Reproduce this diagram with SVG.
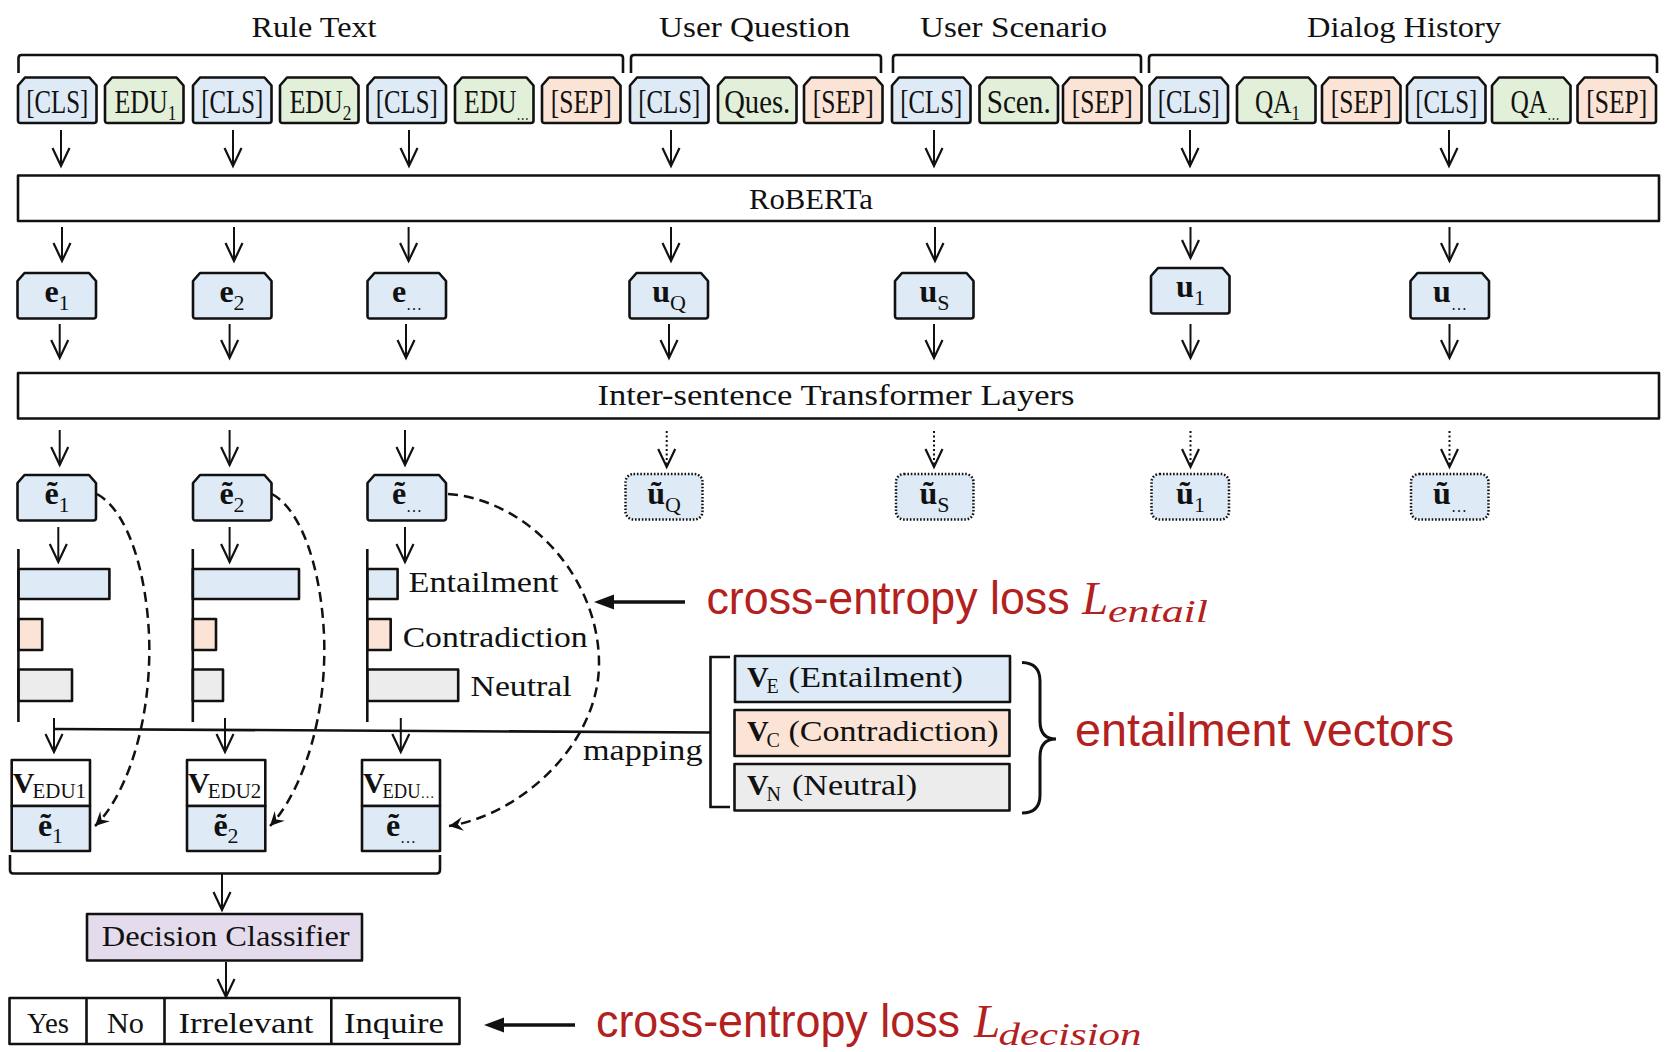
<svg xmlns="http://www.w3.org/2000/svg" xmlns:xlink="http://www.w3.org/1999/xlink" width="1665" height="1052" viewBox="0 0 1665 1052">
  <style>
    .bx{stroke:#111;stroke-width:2.6;stroke-linejoin:round}
    .blue{fill:#deebf7}.green{fill:#e2efd9}.peach{fill:#fbe4d5}.grey{fill:#ececec}.purple{fill:#e4dcec}.white{fill:#fff}
    .dotbox{fill:#deebf7;stroke:#111;stroke-width:2.5;stroke-dasharray:1.6 1.8}
    .t{font-family:'Liberation Serif',serif;fill:#111}
    .tok{font-size:33px}
    .lbl{font-size:29px}
    .sym{font-size:32px}
    .b{font-weight:bold}
    .red{font-family:'Liberation Sans',sans-serif;fill:#b3211e;font-size:46px}
    .redm{font-family:'Liberation Serif',serif;fill:#b3211e;font-style:italic}
    .ln{stroke:#111;stroke-width:2.6;fill:none}
    .ar{stroke:#111;stroke-width:2;fill:none;marker-end:url(#v)}
    .dt{stroke-dasharray:2 2.5}
    .dash{stroke:#111;stroke-width:2.5;fill:none;stroke-dasharray:10 6;marker-end:url(#sv)}
  </style>
  <defs>
    <!-- chamfered token tab -->
    <path id="tab" d="M7,0 H71.5 L78.5,8 V43 Q78.5,45.5 76,45.5 H2.5 Q0,45.5 0,43 V8 Z"/>
    <marker id="v" markerUnits="userSpaceOnUse" markerWidth="24" markerHeight="24" viewBox="-21 -12 24 24" refX="0" refY="0" orient="auto">
      <path d="M-18,-8.5 L0,0 L-18,8.5" fill="none" stroke="#111" stroke-width="2.2"/>
    </marker>
    <marker id="sv" markerUnits="userSpaceOnUse" markerWidth="20" markerHeight="20" viewBox="-16 -10 20 20" refX="0" refY="0" orient="auto">
      <path d="M0,0 L-14,-7 L-9,0 L-14,7 Z" fill="#111"/>
    </marker>
  </defs>

  <!-- section headers and brackets -->
  <g id="headers" class="t lbl">
    <text x="314" y="37" text-anchor="middle" textLength="125" lengthAdjust="spacingAndGlyphs">Rule Text</text>
    <text x="754.5" y="37" text-anchor="middle" textLength="191" lengthAdjust="spacingAndGlyphs">User Question</text>
    <text x="1013.5" y="37" text-anchor="middle" textLength="187" lengthAdjust="spacingAndGlyphs">User Scenario</text>
    <text x="1404" y="37" text-anchor="middle" textLength="194" lengthAdjust="spacingAndGlyphs">Dialog History</text>
  </g>
  <g id="brackets" class="ln">
    <path d="M18.5,73 V58 Q18.5,55 21.5,55 H620 Q623,55 623,58 V73"/>
    <path d="M631,73 V58 Q631,55 634,55 H878 Q881,55 881,58 V73"/>
    <path d="M893,73 V58 Q893,55 896,55 H1138 Q1141,55 1141,58 V73"/>
    <path d="M1149,73 V58 Q1149,55 1152,55 H1654 Q1657,55 1657,58 V73"/>
  </g>

  <!-- input tokens -->
  <g id="tokens">
    <g id="tok-cls1"><use xlink:href="#tab" x="18" y="77.5" class="bx blue"/><text class="t tok" x="57.2" y="113" text-anchor="middle" textLength="62" lengthAdjust="spacingAndGlyphs">[CLS]</text></g>
    <g id="tok-edu1"><use xlink:href="#tab" x="105" y="77.5" class="bx green"/><text class="t tok" transform="translate(114.5,113) scale(0.787,1)">EDU<tspan dy="6.5" font-size="22">1</tspan></text></g>
    <g id="tok-cls2"><use xlink:href="#tab" x="193" y="77.5" class="bx blue"/><text class="t tok" x="232.2" y="113" text-anchor="middle" textLength="62" lengthAdjust="spacingAndGlyphs">[CLS]</text></g>
    <g id="tok-edu2"><use xlink:href="#tab" x="280" y="77.5" class="bx green"/><text class="t tok" transform="translate(289.5,113) scale(0.787,1)">EDU<tspan dy="6.5" font-size="22">2</tspan></text></g>
    <g id="tok-cls3"><use xlink:href="#tab" x="367.5" y="77.5" class="bx blue"/><text class="t tok" x="406.7" y="113" text-anchor="middle" textLength="62" lengthAdjust="spacingAndGlyphs">[CLS]</text></g>
    <g id="tok-edun"><use xlink:href="#tab" x="455" y="77.5" class="bx green"/><text class="t tok" transform="translate(464,113) scale(0.776,1)">EDU<tspan dy="6.5" font-size="16">…</tspan></text></g>
    <g id="tok-sep1"><use xlink:href="#tab" x="542" y="77.5" class="bx peach"/><text class="t tok" x="581.2" y="113" text-anchor="middle" textLength="61" lengthAdjust="spacingAndGlyphs">[SEP]</text></g>

    <g id="tok-cls-q"><use xlink:href="#tab" x="630" y="77.5" class="bx blue"/><text class="t tok" x="669.2" y="113" text-anchor="middle" textLength="62" lengthAdjust="spacingAndGlyphs">[CLS]</text></g>
    <g id="tok-ques"><use xlink:href="#tab" x="718" y="77.5" class="bx green"/><text class="t tok" x="757.2" y="113" text-anchor="middle" textLength="66" lengthAdjust="spacingAndGlyphs">Ques.</text></g>
    <g id="tok-sep-q"><use xlink:href="#tab" x="804" y="77.5" class="bx peach"/><text class="t tok" x="843.2" y="113" text-anchor="middle" textLength="61" lengthAdjust="spacingAndGlyphs">[SEP]</text></g>

    <g id="tok-cls-s"><use xlink:href="#tab" x="892" y="77.5" class="bx blue"/><text class="t tok" x="931.2" y="113" text-anchor="middle" textLength="62" lengthAdjust="spacingAndGlyphs">[CLS]</text></g>
    <g id="tok-scen"><use xlink:href="#tab" x="979.5" y="77.5" class="bx green"/><text class="t tok" x="1018.7" y="113" text-anchor="middle" textLength="64" lengthAdjust="spacingAndGlyphs">Scen.</text></g>
    <g id="tok-sep-s"><use xlink:href="#tab" x="1063" y="77.5" class="bx peach"/><text class="t tok" x="1102.2" y="113" text-anchor="middle" textLength="61" lengthAdjust="spacingAndGlyphs">[SEP]</text></g>

    <g id="tok-cls-h1"><use xlink:href="#tab" x="1149.5" y="77.5" class="bx blue"/><text class="t tok" x="1188.7" y="113" text-anchor="middle" textLength="62" lengthAdjust="spacingAndGlyphs">[CLS]</text></g>
    <g id="tok-qa1"><use xlink:href="#tab" x="1237" y="77.5" class="bx green"/><text class="t tok" transform="translate(1255,113) scale(0.767,1)">QA<tspan dy="6.5" font-size="22">1</tspan></text></g>
    <g id="tok-sep-h1"><use xlink:href="#tab" x="1322" y="77.5" class="bx peach"/><text class="t tok" x="1361.2" y="113" text-anchor="middle" textLength="61" lengthAdjust="spacingAndGlyphs">[SEP]</text></g>
    <g id="tok-cls-h2"><use xlink:href="#tab" x="1407" y="77.5" class="bx blue"/><text class="t tok" x="1446.2" y="113" text-anchor="middle" textLength="62" lengthAdjust="spacingAndGlyphs">[CLS]</text></g>
    <g id="tok-qan"><use xlink:href="#tab" x="1492" y="77.5" class="bx green"/><text class="t tok" transform="translate(1510.5,113) scale(0.77,1)">QA<tspan dy="6.5" font-size="16">…</tspan></text></g>
    <g id="tok-sep-h2"><use xlink:href="#tab" x="1577.5" y="77.5" class="bx peach"/><text class="t tok" x="1616.7" y="113" text-anchor="middle" textLength="61" lengthAdjust="spacingAndGlyphs">[SEP]</text></g>
  </g>

  <!-- encoders -->
  <g id="roberta">
    <rect x="18" y="175.5" width="1641" height="45.5" fill="#fff" class="bx"/>
    <text class="t lbl" x="811" y="209" text-anchor="middle" textLength="124" lengthAdjust="spacingAndGlyphs">RoBERTa</text>
  </g>
  <g id="inter-sentence">
    <rect x="18" y="373" width="1641" height="45.5" fill="#fff" class="bx"/>
    <text class="t lbl" x="836" y="405" text-anchor="middle" textLength="477" lengthAdjust="spacingAndGlyphs">Inter-sentence Transformer Layers</text>
  </g>

  <!-- sentence embeddings -->
  <g id="embeddings">
    <g id="e1"><use xlink:href="#tab" x="17.5" y="273" class="bx blue"/><text class="t sym" x="57" y="302" text-anchor="middle"><tspan class="b">e</tspan><tspan font-size="22" dy="7.5">1</tspan></text></g>
    <g id="e2"><use xlink:href="#tab" x="193" y="273" class="bx blue"/><text class="t sym" x="232" y="302" text-anchor="middle"><tspan class="b">e</tspan><tspan font-size="22" dy="7.5">2</tspan></text></g>
    <g id="en"><use xlink:href="#tab" x="367.5" y="273" class="bx blue"/><text class="t sym" x="407" y="302" text-anchor="middle"><tspan class="b">e</tspan><tspan font-size="16" dy="7.5">…</tspan></text></g>
    <g id="uQ"><use xlink:href="#tab" x="629.5" y="273" class="bx blue"/><text class="t sym" x="669" y="302" text-anchor="middle"><tspan class="b">u</tspan><tspan font-size="22" dy="7.5">Q</tspan></text></g>
    <g id="uS"><use xlink:href="#tab" x="895" y="273" class="bx blue"/><text class="t sym" x="934.5" y="302" text-anchor="middle"><tspan class="b">u</tspan><tspan font-size="22" dy="7.5">S</tspan></text></g>
    <g id="u1"><use xlink:href="#tab" x="1151" y="268" class="bx blue"/><text class="t sym" x="1190.5" y="297" text-anchor="middle"><tspan class="b">u</tspan><tspan font-size="22" dy="7.5">1</tspan></text></g>
    <g id="un"><use xlink:href="#tab" x="1410.5" y="273" class="bx blue"/><text class="t sym" x="1450" y="302" text-anchor="middle"><tspan class="b">u</tspan><tspan font-size="16" dy="7.5">…</tspan></text></g>
  </g>

  <!-- contextualised embeddings -->
  <g id="contextual">
    <g id="te1"><use xlink:href="#tab" x="17.5" y="475" class="bx blue"/><text class="t sym" x="57" y="504" text-anchor="middle"><tspan class="b">ẽ</tspan><tspan font-size="22" dy="7.5">1</tspan></text></g>
    <g id="te2"><use xlink:href="#tab" x="193" y="475" class="bx blue"/><text class="t sym" x="232" y="504" text-anchor="middle"><tspan class="b">ẽ</tspan><tspan font-size="22" dy="7.5">2</tspan></text></g>
    <g id="ten"><use xlink:href="#tab" x="367.5" y="475" class="bx blue"/><text class="t sym" x="407" y="504" text-anchor="middle"><tspan class="b">ẽ</tspan><tspan font-size="16" dy="7.5">…</tspan></text></g>
    <g id="tuQ"><rect x="625.5" y="474" width="77" height="45.5" rx="8" class="dotbox"/><text class="t sym" x="664" y="504" text-anchor="middle"><tspan class="b">ũ</tspan><tspan font-size="22" dy="7.5">Q</tspan></text></g>
    <g id="tuS"><rect x="896" y="474" width="77.5" height="45.5" rx="8" class="dotbox"/><text class="t sym" x="934.5" y="504" text-anchor="middle"><tspan class="b">ũ</tspan><tspan font-size="22" dy="7.5">S</tspan></text></g>
    <g id="tu1"><rect x="1151.5" y="474" width="77.5" height="45.5" rx="8" class="dotbox"/><text class="t sym" x="1190.5" y="504" text-anchor="middle"><tspan class="b">ũ</tspan><tspan font-size="22" dy="7.5">1</tspan></text></g>
    <g id="tun"><rect x="1411" y="474" width="77.5" height="45.5" rx="8" class="dotbox"/><text class="t sym" x="1450" y="504" text-anchor="middle"><tspan class="b">ũ</tspan><tspan font-size="16" dy="7.5">…</tspan></text></g>
  </g>

  <!-- entailment distributions -->
  <g id="dist1">
    <rect x="18.4" y="569" width="91" height="30" class="bx blue"/>
    <rect x="18.4" y="619" width="23.8" height="31" class="bx peach"/>
    <rect x="18.4" y="669.5" width="53.6" height="31.5" class="bx grey"/>
    <line x1="18.4" y1="549" x2="18.4" y2="722" class="ln"/>
  </g>
  <g id="dist2">
    <rect x="192.8" y="569" width="106.2" height="30" class="bx blue"/>
    <rect x="192.8" y="619" width="23.2" height="31" class="bx peach"/>
    <rect x="192.8" y="669.5" width="30.2" height="31.5" class="bx grey"/>
    <line x1="192.8" y1="549" x2="192.8" y2="722" class="ln"/>
  </g>
  <g id="dist3">
    <rect x="367.3" y="569" width="30.3" height="30" class="bx blue"/>
    <rect x="367.3" y="619" width="23.4" height="31" class="bx peach"/>
    <rect x="367.3" y="669.5" width="90.9" height="31.5" class="bx grey"/>
    <line x1="367.3" y1="549" x2="367.3" y2="722" class="ln"/>
    <text class="t lbl" x="408.6" y="591.5" textLength="150" lengthAdjust="spacingAndGlyphs">Entailment</text>
    <text class="t lbl" x="402.7" y="646.5" textLength="185" lengthAdjust="spacingAndGlyphs">Contradiction</text>
    <text class="t lbl" x="470.6" y="695.5" textLength="101" lengthAdjust="spacingAndGlyphs">Neutral</text>
  </g>

  <!-- EDU representations: entailment vector + contextual embedding -->
  <g id="vedu1">
    <rect x="11.7" y="760" width="78.3" height="46" class="bx white"/>
    <rect x="11.7" y="806" width="78.3" height="45" class="bx blue"/>
    <text class="t" y="793"><tspan x="12.7" class="b" font-size="30">V</tspan><tspan x="32.5" y="797.5" font-size="20" textLength="53.5" lengthAdjust="spacingAndGlyphs">EDU1</tspan></text>
    <text class="t sym" x="50.5" y="835.5" text-anchor="middle"><tspan class="b">ẽ</tspan><tspan font-size="22" dy="7">1</tspan></text>
  </g>
  <g id="vedu2">
    <rect x="187" y="760" width="78.3" height="46" class="bx white"/>
    <rect x="187" y="806" width="78.3" height="45" class="bx blue"/>
    <text class="t" y="793"><tspan x="188" class="b" font-size="30">V</tspan><tspan x="207.8" y="797.5" font-size="20" textLength="53.5" lengthAdjust="spacingAndGlyphs">EDU2</tspan></text>
    <text class="t sym" x="226" y="835.5" text-anchor="middle"><tspan class="b">ẽ</tspan><tspan font-size="22" dy="7">2</tspan></text>
  </g>
  <g id="vedun">
    <rect x="362" y="760" width="78" height="46" class="bx white"/>
    <rect x="362" y="806" width="78" height="45" class="bx blue"/>
    <text class="t" y="793"><tspan x="363" class="b" font-size="30">V</tspan><tspan x="382.5" y="797.5" font-size="20" textLength="38" lengthAdjust="spacingAndGlyphs">EDU</tspan><tspan font-size="14">…</tspan></text>
    <text class="t sym" x="401" y="835.5" text-anchor="middle"><tspan class="b">ẽ</tspan><tspan font-size="16" dy="7">…</tspan></text>
  </g>

  <!-- entailment vector table -->
  <g id="entail-vectors">
    <rect x="735" y="656" width="275" height="46" class="bx blue" stroke-width="3"/>
    <rect x="734.5" y="710" width="275" height="46" class="bx peach" stroke-width="3"/>
    <rect x="734.5" y="764" width="275" height="46.5" class="bx grey" stroke-width="3"/>
    <text class="t" y="687"><tspan x="747" class="b" font-size="30">V</tspan><tspan x="766.5" y="693" font-size="20">E</tspan><tspan x="788.5" y="687" font-size="29" textLength="174.5" lengthAdjust="spacingAndGlyphs">(Entailment)</tspan></text>
    <text class="t" y="741"><tspan x="747" class="b" font-size="30">V</tspan><tspan x="766.5" y="747" font-size="20">C</tspan><tspan x="788.5" y="741" font-size="29" textLength="210" lengthAdjust="spacingAndGlyphs">(Contradiction)</tspan></text>
    <text class="t" y="795"><tspan x="747" class="b" font-size="30">V</tspan><tspan x="766.5" y="801" font-size="20">N</tspan><tspan x="792" y="795" font-size="29" textLength="125" lengthAdjust="spacingAndGlyphs">(Neutral)</tspan></text>
    <path d="M730,657 H710.5 V807 H730" class="ln"/>
    <path d="M1022,662.5 Q1040,663 1040,681 V721 Q1040,739 1056,739 Q1040,739 1040,757 V795 Q1040,813 1022,813" stroke="#111" stroke-width="3" fill="none"/>
    <text class="red" x="1075" y="746" textLength="379" lengthAdjust="spacingAndGlyphs">entailment vectors</text>
  </g>

  <!-- decision head -->
  <g id="edu-bracket">
    <path d="M10,855 V870 Q10,873.5 13.5,873.5 H436.5 Q440,873.5 440,870 V855" class="ln"/>
  </g>
  <g id="decision-classifier">
    <rect x="87" y="914" width="275" height="46.5" class="bx purple"/>
    <text class="t" font-size="30" x="225.7" y="946" text-anchor="middle" textLength="248" lengthAdjust="spacingAndGlyphs">Decision Classifier</text>
  </g>
  <g id="decisions">
    <rect x="9.5" y="998" width="450" height="46" class="bx white"/>
    <line x1="86.5" y1="998" x2="86.5" y2="1044" class="ln"/>
    <line x1="164.5" y1="998" x2="164.5" y2="1044" class="ln"/>
    <line x1="331.3" y1="998" x2="331.3" y2="1044" class="ln"/>
    <text class="t" font-size="30" x="48" y="1033" text-anchor="middle" textLength="42" lengthAdjust="spacingAndGlyphs">Yes</text>
    <text class="t" font-size="30" x="125.5" y="1033" text-anchor="middle" textLength="37" lengthAdjust="spacingAndGlyphs">No</text>
    <text class="t" font-size="30" x="246" y="1033" text-anchor="middle" textLength="135" lengthAdjust="spacingAndGlyphs">Irrelevant</text>
    <text class="t" font-size="30" x="394" y="1033" text-anchor="middle" textLength="100" lengthAdjust="spacingAndGlyphs">Inquire</text>
  </g>

  <!-- losses -->
  <g id="loss-entail">
    <text class="red" x="706.5" y="614" textLength="363" lengthAdjust="spacingAndGlyphs">cross-entropy loss</text>
    <text class="redm" font-size="47" x="1082" y="614">L</text>
    <text class="redm" font-size="32" x="1108" y="622" textLength="100" lengthAdjust="spacingAndGlyphs">entail</text>
  </g>
  <g id="loss-decision">
    <text class="red" x="596" y="1037" textLength="364" lengthAdjust="spacingAndGlyphs">cross-entropy loss</text>
    <text class="redm" font-size="47" x="974" y="1037">L</text>
    <text class="redm" font-size="32" x="998.5" y="1045" textLength="143" lengthAdjust="spacingAndGlyphs">decision</text>
  </g>

  <!-- connectors -->
  <g id="connectors">
    <!-- tokens to RoBERTa -->
    <path class="ar" d="M61,130 V166"/>
    <path class="ar" d="M233,130 V166"/>
    <path class="ar" d="M409,130 V166"/>
    <path class="ar" d="M671,130 V166"/>
    <path class="ar" d="M934,130 V166"/>
    <path class="ar" d="M1190,130 V166"/>
    <path class="ar" d="M1449,130 V166"/>
    <!-- RoBERTa to sentence embeddings -->
    <path class="ar" d="M62,227 V261"/>
    <path class="ar" d="M234,227 V261"/>
    <path class="ar" d="M408.6,227 V261"/>
    <path class="ar" d="M671,227 V261"/>
    <path class="ar" d="M935,227 V261"/>
    <path class="ar" d="M1190.5,227 V258"/>
    <path class="ar" d="M1449.5,227 V261"/>
    <!-- embeddings to inter-sentence layers -->
    <path class="ar" d="M59.7,324 V358"/>
    <path class="ar" d="M229.6,324 V358"/>
    <path class="ar" d="M406,324 V358"/>
    <path class="ar" d="M669,324 V358"/>
    <path class="ar" d="M934,324 V358"/>
    <path class="ar" d="M1190.5,324 V358"/>
    <path class="ar" d="M1449.5,324 V358"/>
    <!-- inter-sentence layers to contextual embeddings -->
    <path class="ar" d="M59.7,430 V465"/>
    <path class="ar" d="M229.6,430 V465"/>
    <path class="ar" d="M405,430 V465"/>
    <path class="ar dt" d="M666.7,431 V467"/>
    <path class="ar dt" d="M934,431 V467"/>
    <path class="ar dt" d="M1190.5,431 V467"/>
    <path class="ar dt" d="M1449.5,431 V467"/>
    <!-- contextual embeddings to distributions -->
    <path class="ar" d="M58.3,527 V562"/>
    <path class="ar" d="M229.6,527 V562"/>
    <path class="ar" d="M405,527 V562"/>
    <!-- distributions to EDU representations, with mapping -->
    <path class="ar" d="M54,718 V752"/>
    <path class="ar" d="M225,718 V752"/>
    <path class="ar" d="M400.8,718 V752"/>
    <path class="ln" d="M54,729 L711,732.5"/>
    <text class="t lbl" x="583" y="760" textLength="119.5" lengthAdjust="spacingAndGlyphs">mapping</text>
    <!-- contextual embeddings copied into EDU representations -->
    <path class="dash" d="M97,494 C135,515 152,600 149,665 C146,740 122,800 95,826"/>
    <path class="dash" d="M272,494 C310,515 327,600 324,665 C321,740 295,800 270,826"/>
    <path class="dash" d="M448,494 C530,500 600,580 599,665 C598,745 520,815 449,826"/>
    <!-- decision path -->
    <path class="ar" d="M222,874 V910"/>
    <path class="ar" d="M226,962 V997"/>
    <!-- loss arrows -->
    <line x1="685" y1="602" x2="608" y2="602" stroke="#111" stroke-width="3.6"/>
    <polygon points="594,602 614,594.5 614,609.5" fill="#111"/>
    <line x1="575" y1="1025" x2="498" y2="1025" stroke="#111" stroke-width="3.6"/>
    <polygon points="484,1025 504,1017.5 504,1032.5" fill="#111"/>
  </g>
</svg>
